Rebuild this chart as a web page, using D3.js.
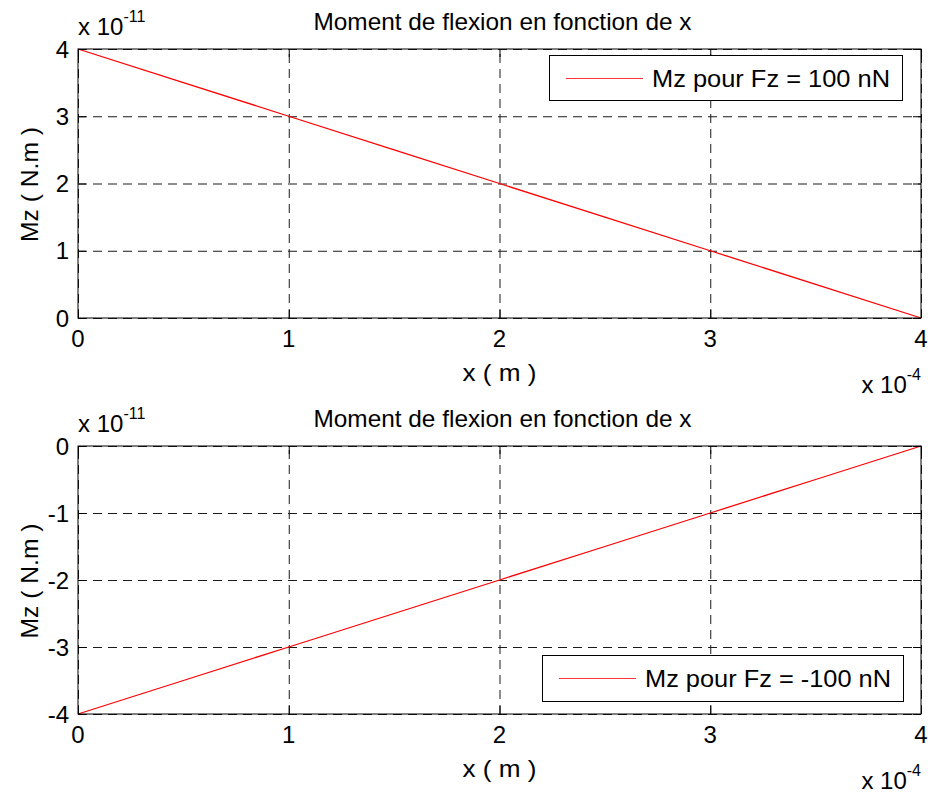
<!DOCTYPE html>
<html>
<head>
<meta charset="utf-8">
<script src="https://cdn.jsdelivr.net/npm/d3@7"></script>
<style>
  html, body { margin: 0; padding: 0; background: #fff; }
  svg { display: block; }
  text { font-family: "Liberation Sans", Arial, Helvetica, sans-serif; fill: #000; }
</style>
</head>
<body>
<svg id="fig" width="928" height="794"></svg>
<script>
// Beam bending moment along x, for two load cases
const xPositions = [0, 0.5e-4, 1e-4, 1.5e-4, 2e-4, 2.5e-4, 3e-4, 3.5e-4, 4e-4];
const mzPositiveLoad = [4e-11, 3.5e-11, 3e-11, 2.5e-11, 2e-11, 1.5e-11, 1e-11, 0.5e-11, 0];
const mzNegativeLoad = [-4e-11, -3.5e-11, -3e-11, -2.5e-11, -2e-11, -1.5e-11, -1e-11, -0.5e-11, 0];

const xTicks = [0, 1e-4, 2e-4, 3e-4, 4e-4];
const xTickLabels = ["0", "1", "2", "3", "4"];
const yTicksTop = [0, 1e-11, 2e-11, 3e-11, 4e-11];
const yTickLabelsTop = ["0", "1", "2", "3", "4"];
const yTicksBottom = [-4e-11, -3e-11, -2e-11, -1e-11, 0];
const yTickLabelsBottom = ["-4", "-3", "-2", "-1", "0"];

const titleText = "Moment de flexion en fonction de x";
const xLabelText = "x ( m )";
const yLabelText = "Mz ( N.m )";
const legendTop = "Mz pour Fz = 100 nN";
const legendBottom = "Mz pour Fz = -100 nN";

const FS = 24;      // main font size
const SUP = 16;     // exponent font size

const svg = d3.select("#fig");

function drawPanel(cfg) {
  const { left, right, top, bottom } = cfg;
  const w = right - left, h = bottom - top;
  const x = d3.scaleLinear().domain([0, 4e-4]).range([0, w]);
  const y = d3.scaleLinear().domain(cfg.yDomain).range([h, 0]);

  const g = svg.append("g").attr("transform", `translate(${left},${top})`);

  // dashed grid
  const grid = g.append("g").attr("class", "grid");
  grid.append("g")
    .attr("transform", `translate(0,${h})`)
    .call(d3.axisBottom(x).tickValues(xTicks).tickSize(-h).tickFormat(""))
    .call(s => s.select(".domain").remove());
  grid.append("g")
    .call(d3.axisLeft(y).tickValues(cfg.yTicks).tickSize(-w).tickFormat(""))
    .call(s => s.select(".domain").remove());
  grid.selectAll("line")
    .attr("stroke", "#1a1a1a")
    .attr("stroke-width", 1)
    .attr("stroke-dasharray", "9,6");

  // data line
  const line = d3.line().x((d, i) => x(xPositions[i])).y(d => y(d));
  g.append("path")
    .datum(cfg.values)
    .attr("fill", "none")
    .attr("stroke", "#ff0000")
    .attr("stroke-width", 1.3)
    .attr("d", line);

  // inward ticks on all four sides
  const tk = 8;
  const ticks = g.append("g").attr("class", "ticks");
  ticks.append("g").attr("transform", `translate(0,${h})`)
    .call(d3.axisBottom(x).tickValues(xTicks).tickSize(-tk).tickFormat(""));
  ticks.append("g")
    .call(d3.axisTop(x).tickValues(xTicks).tickSize(-tk).tickFormat(""));
  ticks.append("g")
    .call(d3.axisLeft(y).tickValues(cfg.yTicks).tickSize(-tk).tickFormat(""));
  ticks.append("g").attr("transform", `translate(${w},0)`)
    .call(d3.axisRight(y).tickValues(cfg.yTicks).tickSize(-tk).tickFormat(""));
  ticks.selectAll(".domain").remove();
  ticks.selectAll("line").attr("stroke", "#000").attr("stroke-width", 1);

  // tick labels
  g.selectAll(".xtl").data(xTicks).enter().append("text")
    .attr("class", "xtl")
    .attr("x", d => x(d)).attr("y", h + 29)
    .attr("text-anchor", "middle").attr("font-size", FS)
    .text((d, i) => xTickLabels[i]);
  g.selectAll(".ytl").data(cfg.yTicks).enter().append("text")
    .attr("class", "ytl")
    .attr("x", -9).attr("y", d => y(d) + 8.5)
    .attr("text-anchor", "end").attr("font-size", FS)
    .text((d, i) => cfg.yTickLabels[i]);

  // legend
  const L = cfg.legend;
  const lg = g.append("g").attr("transform", `translate(${L.x - left},${L.y - top})`);
  lg.append("rect")
    .attr("x", 0.5).attr("y", 0.5)
    .attr("width", L.w).attr("height", L.h)
    .attr("fill", "#fff").attr("stroke", "#000").attr("stroke-width", 1);
  const ly = Math.round(L.h / 2) + 0.5;
  lg.append("line")
    .attr("x1", 17).attr("x2", 94)
    .attr("y1", ly).attr("y2", ly)
    .attr("stroke", "#ff3333").attr("stroke-width", 1);
  lg.append("text")
    .attr("x", 103).attr("y", L.h / 2 + 9)
    .attr("font-size", FS)
    .attr("textLength", L.textLen).attr("lengthAdjust", "spacingAndGlyphs")
    .text(L.text);

  // axes box
  g.append("rect")
    .attr("width", w).attr("height", h)
    .attr("fill", "none").attr("stroke", "#000").attr("stroke-width", 1);

  // title
  svg.append("text")
    .attr("x", left + w / 2 + 3).attr("y", top - 19.5)
    .attr("text-anchor", "middle").attr("font-size", FS)
    .attr("textLength", 378).attr("lengthAdjust", "spacingAndGlyphs")
    .text(titleText);

  // y exponent label at top-left
  const ye = svg.append("text").attr("x", left).attr("y", top - 14).attr("font-size", FS);
  ye.append("tspan").text("x 10");
  ye.append("tspan").attr("font-size", SUP).attr("dy", -13).text("-11");

  // x label
  svg.append("text")
    .attr("x", left + w / 2).attr("y", bottom + 63)
    .attr("text-anchor", "middle").attr("font-size", FS)
    .attr("textLength", 74).attr("lengthAdjust", "spacingAndGlyphs")
    .text(xLabelText);

  // x exponent label at bottom-right
  const xe = svg.append("text").attr("x", right).attr("y", bottom + 75)
    .attr("text-anchor", "end").attr("font-size", FS);
  xe.append("tspan").text("x 10");
  xe.append("tspan").attr("font-size", SUP).attr("dy", -13).text("-4");

  // y label
  svg.append("text")
    .attr("transform", `translate(${left - 40},${top + h / 2 + 1}) rotate(-90)`)
    .attr("text-anchor", "middle").attr("font-size", FS)
    .attr("textLength", 115).attr("lengthAdjust", "spacingAndGlyphs")
    .text(yLabelText);
}

drawPanel({
  left: 78, right: 921, top: 49, bottom: 318,
  yDomain: [0, 4e-11], yTicks: yTicksTop, yTickLabels: yTickLabelsTop,
  values: mzPositiveLoad,
  legend: { x: 549, y: 55, w: 353, h: 45, text: legendTop, textLen: 238 }
});

drawPanel({
  left: 78, right: 921, top: 446, bottom: 714,
  yDomain: [-4e-11, 0], yTicks: yTicksBottom, yTickLabels: yTickLabelsBottom,
  values: mzNegativeLoad,
  legend: { x: 542, y: 655, w: 361, h: 46, text: legendBottom, textLen: 246 }
});
</script>
</body>
</html>
